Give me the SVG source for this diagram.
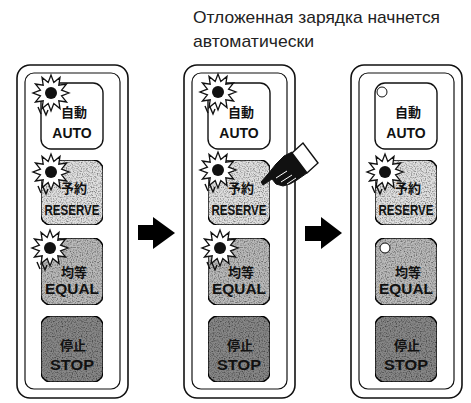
<svg xmlns="http://www.w3.org/2000/svg" xmlns:xlink="http://www.w3.org/1999/xlink" width="471" height="403" viewBox="0 0 471 403">
  <style>
    .outer { fill: #fff; stroke: #111; stroke-width: 1.6; }
    .inner { fill: #fff; stroke: #111; stroke-width: 1.2; }
    .btn { stroke: #111; stroke-width: 1.4; }
    .auto { fill: #fff; }
    .reserve { fill: #e0e0e0; filter: url(#grain); }
    .equal { fill: #bababa; filter: url(#grain); }
    .stop { fill: #878787; filter: url(#grain); }
    .jp { font-family: "Noto Sans CJK JP", "Liberation Sans", sans-serif; font-weight: bold; font-size: 13px; fill: #111; text-anchor: middle; }
    .en { font-family: "Liberation Sans", Arial, sans-serif; font-weight: bold; font-size: 14px; fill: #111; text-anchor: middle; }
    .caption { font-family: "Liberation Sans", Arial, sans-serif; font-size: 17px; fill: #222; }
    .lamp { fill: #fff; stroke: #111; stroke-width: 1; }
  </style>
  <defs>
    <!-- speckled print texture for the grey keys -->
    <filter id="grain" x="0" y="0" width="1" height="1">
      <feTurbulence type="fractalNoise" baseFrequency="0.8" numOctaves="1" seed="3" result="n"/>
      <feColorMatrix in="n" type="matrix" values="0 0 0 0 0  0 0 0 0 0  0 0 0 0 0  0 0 0 -2.2 1.25" result="dots"/>
      <feComposite in="dots" in2="SourceGraphic" operator="in" result="speck"/>
      <feMerge>
        <feMergeNode in="SourceGraphic"/>
        <feMergeNode in="speck"/>
      </feMerge>
    </filter>
    <!-- lit indicator lamp: burst with dark centre -->
    <g id="burst">
      <polygon fill="#fff" stroke="#111" stroke-width="1.3" stroke-linejoin="miter"
        points="18,0 10.6,2.8 15.6,9 7.8,7.8 9,15.6 2.8,10.6 0,18 -2.8,10.6 -9,15.6 -7.8,7.8 -15.6,9 -10.6,2.8 -18,0 -10.6,-2.8 -15.6,-9 -7.8,-7.8 -9,-15.6 -2.8,-10.6 0,-18 2.8,-10.6 9,-15.6 7.8,-7.8 15.6,-9 10.6,-2.8"/>
      <circle r="6" fill="#111"/>
      <path d="M-13,14 L-10,21 M-8,15 L-5,22 L-3,17" fill="none" stroke="#111" stroke-width="1.4"/>
    </g>
    <!-- control strip with four buttons -->
    <g id="strip">
      <rect class="outer" x="17" y="65" width="111" height="333" rx="13"/>
      <rect class="inner" x="25" y="73" width="95" height="316" rx="9"/>
      <g id="btn-auto">
        <rect class="btn auto" x="41" y="83" width="62" height="66" rx="10"/>
        <text class="jp" x="74" y="117">自動</text>
        <text class="en" x="72" y="138">AUTO</text>
      </g>
      <g id="btn-reserve">
        <rect class="btn reserve" x="41" y="160" width="62" height="65" rx="10"/>
        <text class="jp" x="74" y="193">予約</text>
        <text class="en" x="72" y="215" textLength="55" lengthAdjust="spacingAndGlyphs">RESERVE</text>
      </g>
      <g id="btn-equal">
        <rect class="btn equal" x="41" y="238" width="62" height="67" rx="10"/>
        <text class="jp" x="74" y="277">均等</text>
        <text class="en" x="72" y="294" textLength="54" lengthAdjust="spacingAndGlyphs">EQUAL</text>
      </g>
      <g id="btn-stop">
        <rect class="btn stop" x="41" y="316" width="62" height="66" rx="10"/>
        <text class="jp" x="73" y="350">停止</text>
        <text class="en" x="72" y="370" textLength="44" lengthAdjust="spacingAndGlyphs">STOP</text>
      </g>
    </g>
  </defs>

  <text class="caption" x="193" y="23" textLength="247" lengthAdjust="spacingAndGlyphs">Отложенная зарядка начнется</text>
  <text class="caption" x="193" y="47" textLength="121" lengthAdjust="spacingAndGlyphs">автоматически</text>

  <!-- state 1: all three modes lit -->
  <g id="panel-1">
    <use xlink:href="#strip"/>
    <use xlink:href="#burst" x="51" y="93"/>
    <use xlink:href="#burst" x="51" y="172"/>
    <use xlink:href="#burst" x="50" y="248"/>
  </g>

  <!-- state 2: RESERVE pressed -->
  <g id="panel-2">
    <use xlink:href="#strip" x="167"/>
    <use xlink:href="#burst" x="218" y="92"/>
    <use xlink:href="#burst" x="218" y="170"/>
    <use xlink:href="#burst" x="220" y="248"/>
    <g id="hand">
      <polygon points="292,152 284,156 276,164 268,174 261,182 263,185 272,179 276,184 283,186 290,184 297,180 307,173" fill="#111" stroke="#111" stroke-width="1" stroke-linejoin="round"/>
      <path d="M276,178 L287,171 M281,182 L292,175 M287,184 L296,178" stroke="#fff" stroke-width="1" fill="none"/>
      <polygon points="292,153 303,143 318,163 307,173" fill="#fff" stroke="#111" stroke-width="1.4"/>
    </g>
  </g>

  <!-- state 3: only RESERVE lit -->
  <g id="panel-3">
    <use xlink:href="#strip" x="334"/>
    <circle class="lamp" cx="382" cy="92" r="5"/>
    <use xlink:href="#burst" x="385" y="172"/>
    <circle class="lamp" cx="385" cy="248" r="5"/>
  </g>

  <g id="connectors" fill="#000">
    <polygon points="138,225 153,225 153,217 175,233 153,249 153,240 138,240"/>
    <polygon points="305,226 321,226 321,217 342,233 321,249 321,241 305,241"/>
  </g>
</svg>
